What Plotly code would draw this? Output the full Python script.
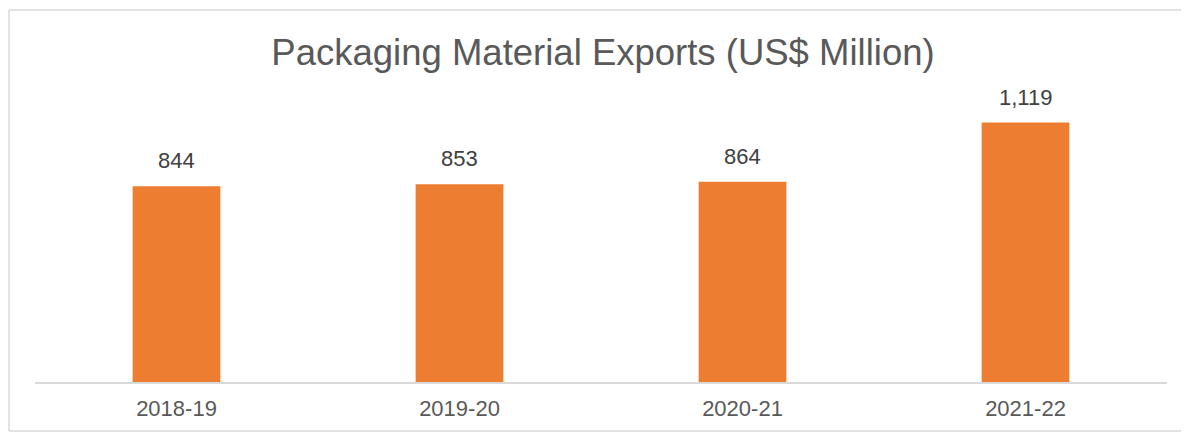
import plotly.graph_objects as go

categories = ["2018-19", "2019-20", "2020-21", "2021-22"]
values = [844, 853, 864, 1119]
labels = ["844", "853", "864", "1,119"]
title_text = "Packaging Material Exports (US$ Million)"

VW, VH = 1189, 436
OFF = 8  # default page body margin
W, H = VW - OFF, VH - OFF
# desired plot area in page pixels
PX0, PX1, PY0, PY1 = 35, 1167, 80, 382
L = PX0 - OFF
R = W - (PX1 - OFF)
T = PY0 - OFF
B = H - (PY1 - OFF)
pw, ph = PX1 - PX0, PY1 - PY0

FONT = "Liberation Sans, Arial, sans-serif"

fig = go.Figure(go.Bar(
    x=categories, y=values,
    marker=dict(color="#ED7D31", line=dict(width=0)),
))

for c, v, t in zip(categories, values, labels):
    fig.add_annotation(x=c, y=v, text=t, showarrow=False, yanchor="bottom", yshift=11,
                       font=dict(family=FONT, size=22, color="#404040"))

def px_x(p):
    return (p - PX0) / pw

def px_y(p):
    return (PY1 - p) / ph

border = dict(color="#D9D9D9", width=1.5)
bx0, bx1, by0, by1 = px_x(9), px_x(1250), px_y(431), px_y(10)

fig.update_layout(
    width=W, height=H,
    margin=dict(l=L, r=R, t=T, b=B),
    paper_bgcolor="white", plot_bgcolor="white",
    bargap=0.69,
    showlegend=False,
    title=dict(text=title_text, x=px_x(603), xref="paper", xanchor="center",
               y=1 - (52 - OFF) / H, yanchor="middle",
               font=dict(family=FONT, size=36.5, color="#595959")),
    xaxis=dict(showgrid=False, showline=True, linecolor="#D9D9D9", linewidth=1.5,
               ticks="", ticklabelstandoff=6,
               tickfont=dict(family=FONT, size=22, color="#595959")),
    yaxis=dict(visible=False, range=[0, ph / 0.2318]),
    shapes=[
        dict(type="line", xref="paper", yref="paper", x0=bx0, x1=bx1, y0=by1, y1=by1, line=border, layer="below"),
        dict(type="line", xref="paper", yref="paper", x0=bx0, x1=bx0, y0=by0, y1=by1, line=border, layer="below"),
        dict(type="line", xref="paper", yref="paper", x0=bx0, x1=bx1, y0=by0, y1=by0, line=border, layer="below"),
    ],
)

fig.write_html("out.html")
